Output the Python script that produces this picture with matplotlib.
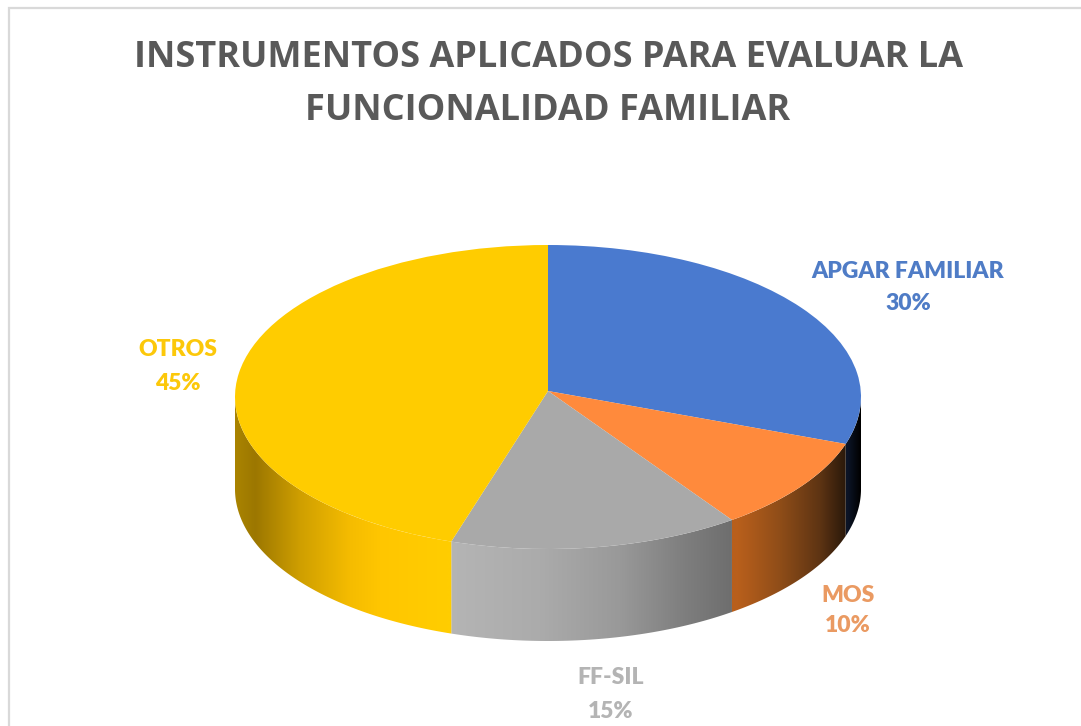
"""
3D looking pie chart of the instruments used to evaluate family functioning
"""
import numpy as np
import matplotlib
matplotlib.use('Agg')
import matplotlib.pyplot as plt
from matplotlib.colors import to_rgb
from matplotlib.patches import Polygon

title_lines = ['INSTRUMENTOS APLICADOS PARA EVALUAR LA', 'FUNCIONALIDAD FAMILIAR']
labels = ['APGAR FAMILIAR', 'MOS', 'FF-SIL', 'OTROS']
values = [30, 10, 15, 45]
top_colors = ['#4a7acf', '#ff8a3c', '#a9a9a9', '#ffcc00']
text_colors = ['#4f7cc6', '#ea9a62', '#b4b4b4', '#fcc80a']

W, H = 1081, 726
# pie geometry in pixels of the picture
CX, CY, RX, RY = 548, 397, 313, 152
DEPTH = 92 / RY
APEX_SHIFT = 6 / RY

# side shading: pixel x -> colour, one list per slice
side_shades = [
    [(848, '#0c1426'), (861, '#000000')],
    [(738, '#b85f1c'), (780, '#8f4d18'), (820, '#5e3413'), (845, '#2d1a0b'), (859, '#050505')],
    [(447, '#b5b5b5'), (540, '#ababab'), (620, '#999999'), (680, '#808080'), (738, '#6c6c6c')],
    [(236, '#a98300'), (255, '#9c7700'), (300, '#cf9f00'), (350, '#f5bc00'), (380, '#ffc600'), (447, '#ffcd00')],
]

label_xy = [(908, 272), (848, 595), (611, 678), (178, 350)]
pct_xy = [(908, 304), (848, 626), (611, 711), (178, 384)]

fig = plt.figure(figsize=(W / 100, H / 100), dpi=100)

# pie axes, one data unit is RX wide and RY high
ax = fig.add_axes([0, 0, 1, 1])
wedges, _ = ax.pie(values, colors=top_colors, startangle=90, counterclock=False,
                   wedgeprops={'linewidth': 0, 'zorder': 5})
ax.set_aspect('auto')
ax.set_autoscale_on(False)

for wedge, shades in zip(wedges, side_shades):
    # the slices meet slightly above the middle of the ellipse
    verts = wedge.get_path().vertices
    verts[np.all(verts == 0, axis=1), 1] += APEX_SHIFT

    lo = max(wedge.theta1, -180)
    hi = min(wedge.theta2, 0)
    if hi <= lo:
        continue
    t = np.radians(np.linspace(lo, hi, 200))
    upper = np.column_stack([np.cos(t), np.sin(t)])
    lower = upper[::-1] - [0, DEPTH]
    side = Polygon(np.vstack([upper, lower]), closed=True, transform=ax.transData,
                   facecolor='none', edgecolor='none')
    ax.add_patch(side)

    # shading strip covers the whole side, colours held at the ends
    x0 = int(CX + RX * np.cos(t).min()) - 3
    x1 = int(CX + RX * np.cos(t).max()) + 3
    xs = [s[0] for s in shades]
    cols = np.array([to_rgb(s[1]) for s in shades])
    px = np.arange(x0, x1 + 1)
    strip = np.stack([np.interp(px, xs, cols[:, i]) for i in range(3)], axis=1)[np.newaxis, :, :]
    im = ax.imshow(strip, aspect='auto', interpolation='bilinear', zorder=2,
                   extent=[(x0 - CX) / RX, (x1 - CX) / RX, -1 - DEPTH, 0.2])
    im.set_clip_path(side)

ax.set_xlim(-CX / RX, (W - CX) / RX)
ax.set_ylim((CY - H) / RY, CY / RY)

# overlay in picture pixels for the frame and the texts
ax_px = fig.add_axes([0, 0, 1, 1])
ax_px.set_xlim(0, W)
ax_px.set_ylim(H, 0)
ax_px.axis('off')
ax_px.plot([9, 9, W], [H, 8, 8], color='#d9d9d9', lw=1.6, solid_joinstyle='miter')

ax_px.text(548, 58, title_lines[0], family='Open Sans', weight='bold', fontsize=26,
           color='#595959', ha='center', va='center')
ax_px.text(548, 111, title_lines[1], family='Open Sans', weight='bold', fontsize=26,
           color='#595959', ha='center', va='center')

for name, val, col, xy, xy2 in zip(labels, values, text_colors, label_xy, pct_xy):
    ax_px.text(xy[0], xy[1], name, family='Lato', weight=800, fontsize=16.5,
               color=col, ha='center', va='center')
    ax_px.text(xy2[0], xy2[1], f'{val}%', family='Lato', weight=800, fontsize=16.5,
               color=col, ha='center', va='center')

fig.savefig('out.png', dpi=100)
